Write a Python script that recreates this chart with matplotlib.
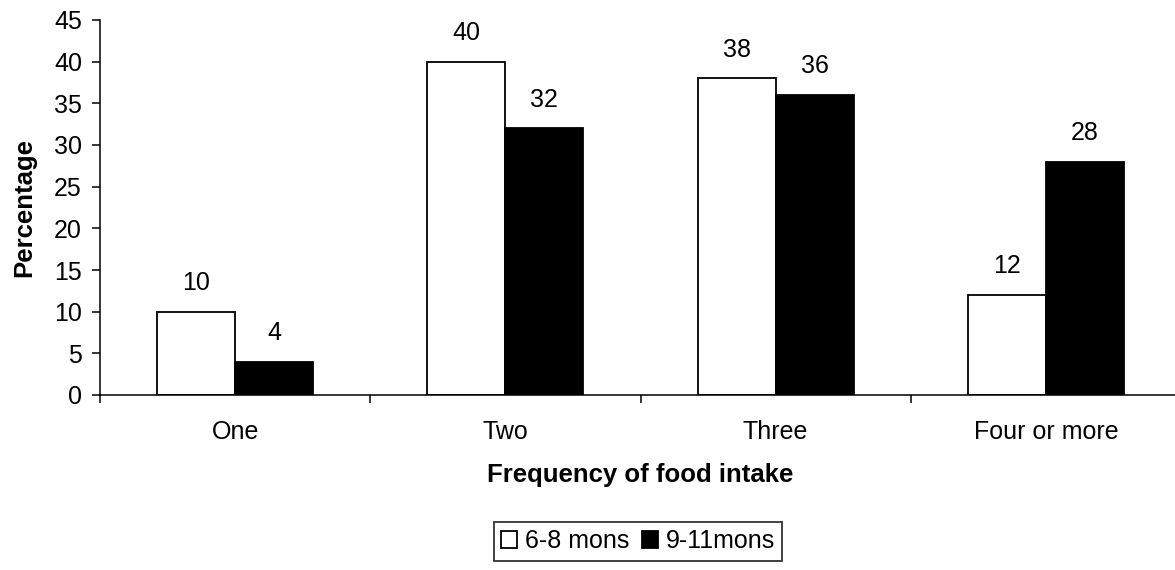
import matplotlib
matplotlib.use('Agg')
import matplotlib.pyplot as plt
import numpy as np

# Podaci
categories = ['One', 'Two', 'Three', 'Four or more']
young = [10, 40, 38, 12]    # 6-8 mons
older = [4, 32, 36, 28]     # 9-11mons
series_names = ['6-8 mons', '9-11mons']

plt.rcParams['font.family'] = ['Liberation Sans', 'DejaVu Sans']
plt.rcParams['font.size'] = 18

W, H = 1175, 570
fig = plt.figure(figsize=(W / 100, H / 100), dpi=100)
ax = fig.add_axes([100 / W, (H - 395) / H, 1081 / W, 375 / H])

x = np.arange(len(categories))
width = 0.289

b1 = ax.bar(x - width / 2, young, width, color='white', edgecolor='black', linewidth=1.3,
            label=series_names[0])
b2 = ax.bar(x + width / 2, older, width, color='black', edgecolor='black', linewidth=1.3,
            label=series_names[1])

# Vrednosti iznad stubaca
for bars, vals in ((b1, young), (b2, older)):
    for bar, v in zip(bars, vals):
        ax.annotate(f'{v}', (bar.get_x() + bar.get_width() / 2, v),
                    xytext=(0, 12), textcoords='offset points',
                    ha='center', va='bottom', fontsize=18)

ax.set_ylim(0, 45)
ax.set_yticks(np.arange(0, 46, 5))
ax.set_xlim(-0.5, len(categories) - 0.5)

# Podeoci izmedju kategorija, nazivi na sredini
ax.set_xticks(np.arange(len(categories) + 1) - 0.5)
ax.set_xticklabels([])
ax.set_xticks(x, minor=True)
ax.set_xticklabels(categories, minor=True)
ax.tick_params(axis='x', which='major', direction='out', length=6, width=1.1)
ax.tick_params(axis='x', which='minor', length=0, pad=18)
ax.tick_params(axis='y', direction='out', length=6, width=1.1, pad=7)

for side in ('top', 'right'):
    ax.spines[side].set_visible(False)
for side in ('left', 'bottom'):
    ax.spines[side].set_linewidth(1.1)
ax.spines['bottom'].set_clip_on(False)

ax.set_ylabel('Percentage', fontweight='bold', fontsize=18.5, labelpad=13)
ax.set_xlabel('Frequency of food intake', fontweight='bold', fontsize=18.5, labelpad=14)

leg = fig.legend(handles=[b1, b2], loc='upper center', ncol=2,
                 bbox_to_anchor=(638 / W, (H - 522) / H),
                 frameon=True, fancybox=False, edgecolor='black',
                 handlelength=0.65, handleheight=0.65, handletextpad=0.3,
                 columnspacing=0.5, borderpad=0.3, borderaxespad=0,
                 fontsize=18)
leg.get_frame().set_linewidth(1.3)

plt.savefig('out.png', dpi=100)
plt.close()
